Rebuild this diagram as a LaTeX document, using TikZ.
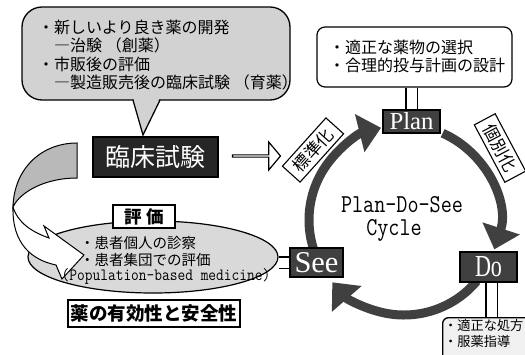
\documentclass[tikz,border=0pt]{standalone}
\usepackage{fontspec}
\setmainfont{Liberation Serif}
\newfontfamily\jp{Noto Sans CJK JP}
\usetikzlibrary{arrows.meta,shapes.geometric,shapes.arrows,calc,backgrounds}
\begin{document}
\begin{tikzpicture}[x=1pt,y=-1pt,
  ring/.style={line width=9pt, draw=black!75, -{Triangle[width=38pt,length=22pt]}},
  darkbox/.style={draw=black, line width=1.2pt, fill=black!75, text=white, inner sep=0pt},
  blackbox/.style={draw=black, line width=1.2pt, fill=black!85, text=white, inner sep=0pt},
  whitebox/.style={draw=black, line width=1.8pt, fill=white, inner sep=0pt},
  lab/.style={draw=black, line width=1.1pt, fill=white, inner xsep=7pt, inner ysep=4pt, font=\jp\fontsize{17}{17}\selectfont},
  dbl/.style={draw=black, line width=1.1pt, double=white, double distance=10pt},
  jptext/.style={align=left, inner sep=0pt},
]
\useasboundingbox (0,0) rectangle (525,354);
% ---- ring arcs
\coordinate (C) at (404,220);
\draw[ring] ($(C)+(-66:95)$) arc[start angle=-66,end angle=18,radius=95];
\draw[ring] ($(C)+(40:95)$) arc[start angle=40,end angle=139,radius=95];
\draw[ring] ($(C)+(155:95)$) arc[start angle=155,end angle=256,radius=95];

% ---- speech bubble
\node[draw=black, line width=1.3pt, fill=gray!35, rounded corners=20pt,
      minimum width=268pt, minimum height=93pt] (bub) at (156,53.5) {};
\fill[gray!35] (133.5,98) -- (143,135) -- (159.5,98) -- cycle;
\draw[line width=1.3pt] (133,100) -- (143,135) -- (160,100);
\node[jptext, anchor=west, font=\jp\fontsize{16}{18.3}\selectfont] (bubtext) at (38,55)
 {・新しいより良き薬の開発\\
  \hspace*{1em}―治験 （創薬）\\
  ・市販後の評価\\
  \hspace*{1em}―製造販売後の臨床試験 （育薬）};

% ---- clinical trial box
\node[blackbox, minimum width=125pt, minimum height=40pt] (rin) at (155.5,157)
  {\jp\fontsize{25}{25}\selectfont 臨床試験};
\node[single arrow, draw=black, fill=white, line width=1.2pt, minimum height=48pt,
      minimum width=28pt, single arrow head extend=7pt, single arrow tip angle=100,
      inner sep=0pt] (harr) at (256,156) {};

% ---- Plan box and its note
\node[draw=black, line width=1.2pt, fill=white, rounded corners=8pt,
      minimum width=195pt, minimum height=60pt] (ptop) at (414.5,57) {};
\node[jptext, anchor=west, font=\jp\fontsize{16}{18}\selectfont] (ptoptext) at (329,56)
 {・適正な薬物の選択\\・合理的投与計画の設計};
\node[darkbox, minimum width=57pt, minimum height=23pt] (plan) at (411.5,121.5)
 {\resizebox{44pt}{17pt}{Plan}};

% ---- Do box and its note
\node[darkbox, minimum width=57pt, minimum height=30pt] (do) at (488.5,267)
 {\resizebox{27pt}{20pt}{Do}};
\node[draw=black, line width=1.3pt, fill=gray!12, rounded corners=6pt,
      minimum width=95pt, minimum height=50pt, anchor=north west] (dob) at (442,317) {};
\node[jptext, anchor=north west, font=\jp\fontsize{13.2}{16}\selectfont] (dobtext) at (444,319)
 {・適正な処方\\・服薬指導};

% ---- See box
\node[darkbox, minimum width=53pt, minimum height=29pt] (see) at (316.5,262.5)
 {\resizebox{44pt}{20pt}{See}};

% ---- cycle title
\node[inner sep=0pt, font=\ttfamily\fontsize{21.5}{21.5}\selectfont] (cyc1) at (402,205)
 {\scalebox{1}[1.2]{Plan-Do-See}};
\node[inner sep=0pt, font=\ttfamily\fontsize{21.5}{21.5}\selectfont] (cyc2) at (394,230)
 {\scalebox{1}[1.2]{Cycle}};

% ---- labels
\node[lab, rotate=48] (std) at (313,150) {標準化};
\node[lab, rotate=-62] (ind) at (500,148) {個別化};

% ---- evaluation ellipse
\node[ellipse, draw=black, line width=1.2pt, fill=gray!30, minimum width=250pt,
      minimum height=72pt] (ell) at (153,257) {};
\node[whitebox, minimum width=62pt, minimum height=23pt] (hyo) at (144,216.5)
 {\jp\bfseries\fontsize{17.5}{17.5}\selectfont 評 価};
\node[whitebox, minimum width=172pt, minimum height=27pt] (yaku) at (154,313.5)
 {\jp\bfseries\fontsize{18.5}{18.5}\selectfont 薬の有効性と安全性};

% ---- ribbon arrow (drawn over the ellipse)
\filldraw[fill=gray!55, line width=1pt] (77,143) .. controls (42,143) and (14,168) .. (13,207)
   .. controls (20,192) and (45,178) .. (77,178) -- cycle;
\filldraw[fill=white, line width=1pt] (13,207) .. controls (18,223) and (32,232) .. (49,238)
   -- (44,226) -- (84,255) -- (62,279) -- (56,265)
   .. controls (32,260) and (12,244) .. (13,207) -- cycle;

% ---- texts inside the ellipse
\node[jptext, anchor=west, font=\jp\fontsize{14.5}{15}\selectfont] (e1) at (80,243) {・患者個人の診察};
\node[jptext, anchor=west, font=\jp\fontsize{14.5}{15}\selectfont] (e2) at (80,260) {・患者集団での評価};
\node[inner sep=0pt, font=\ttfamily\fontsize{15}{15}\selectfont] (e3) at (166,276)
 {\scalebox{1}[1.15]{(Population-based medicine)}};

% ---- connectors
\begin{pgfonlayer}{background}
\fill[white] (0,0) rectangle (525,354);
\draw[dbl] (plan.north) -- (plan.north |- ptop.south);
\draw[dbl] ([xshift=3pt]do.south) -- ([xshift=3pt]do.south |- dob.north);
\draw[dbl] (see.west) -- (see.west -| ell.east);
\end{pgfonlayer}
\end{tikzpicture}
\end{document}
